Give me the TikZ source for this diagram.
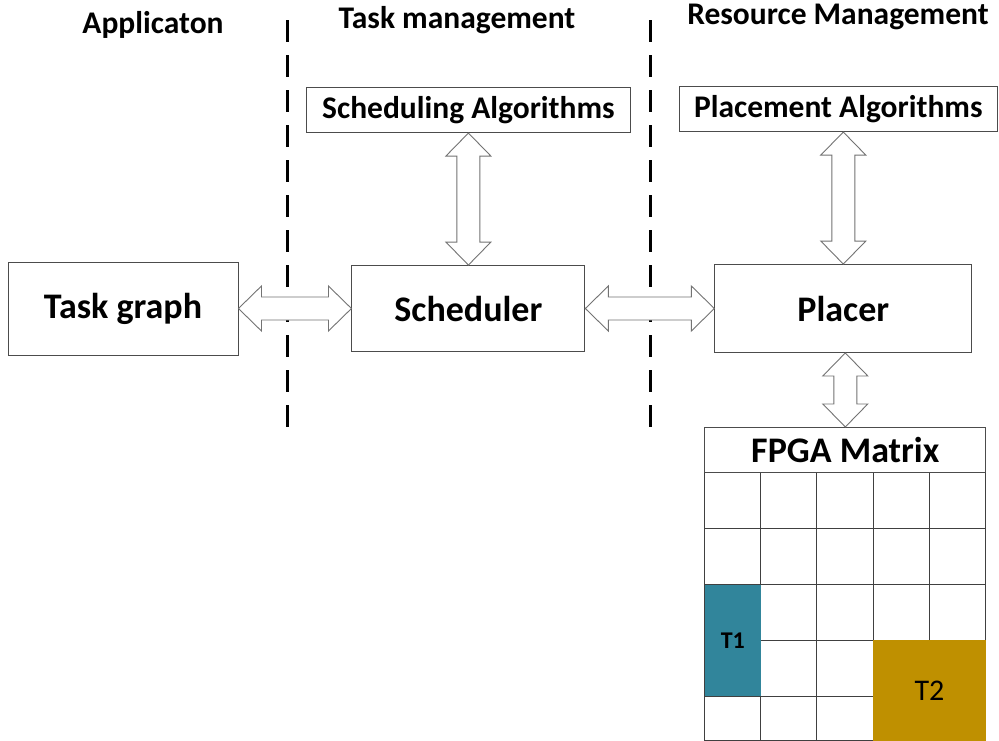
\documentclass[tikz,border=0pt]{standalone}
\usepackage{fontspec}
\setmainfont{Carlito}
\usetikzlibrary{positioning,calc}
\definecolor{tealT}{RGB}{49,133,155}
\definecolor{goldT}{RGB}{191,144,0}

% hollow two-way block arrows between boxes
\newcommand{\hlink}[2]{%
  \draw[blockarrow] let \p1=(#1.east), \p2=(#2.west), \p3=(#1.center) in
    (\x1,\y3) -- (\x1+23pt,\y3+22.5pt) -- (\x1+23pt,\y3+11.5pt) -- (\x2-23pt,\y3+11.5pt)
    -- (\x2-23pt,\y3+22.5pt) -- (\x2,\y3) -- (\x2-23pt,\y3-22.5pt) -- (\x2-23pt,\y3-11.5pt)
    -- (\x1+23pt,\y3-11.5pt) -- (\x1+23pt,\y3-22.5pt) -- cycle;}
\newcommand{\vlink}[2]{%
  \draw[blockarrow] let \p1=(#1.south), \p2=(#2.north) in
    (\x2,\y1) -- (\x2-22.5pt,\y1-23pt) -- (\x2-11.5pt,\y1-23pt) -- (\x2-11.5pt,\y2+23pt)
    -- (\x2-22.5pt,\y2+23pt) -- (\x2,\y2) -- (\x2+22.5pt,\y2+23pt) -- (\x2+11.5pt,\y2+23pt)
    -- (\x2+11.5pt,\y1-23pt) -- (\x2+22.5pt,\y1-23pt) -- cycle;}

\begin{document}
\begin{tikzpicture}[
    x=1pt, y=-1pt,
    box/.style={draw=black!70, line width=0.9pt, inner sep=0pt, align=center},
    big/.style={font=\fontsize{36}{39}\selectfont\bfseries},
    mid/.style={font=\fontsize{31.5}{34}\selectfont\bfseries},
    head/.style={font=\fontsize{31.5}{34}\selectfont\bfseries, inner sep=0pt},
    blockarrow/.style={draw=black!55, fill=white, line width=0.9pt, line join=miter},
    sep/.style={line width=3pt, dash pattern=on 22pt off 13pt},
    cell/.style={draw=black!75, line width=0.8pt}
]
\useasboundingbox[fill=white] (0,0) rectangle (999,740);

% Column titles
\node[head] (app) at (153,25) {Applicaton};
\node[head] (taskmgmt) at (457,20) {Task management};
\node[head] (resmgmt) at (838,17) {Resource Management};

% Separators
\draw[sep] (287,20) -- (287,435);
\draw[sep] (650,20) -- (650,435);

% Main boxes
\node[box, big, minimum width=230pt, minimum height=93pt] (taskgraph) at (123,308.5) {Task graph};
\node[box, big, minimum width=233pt, minimum height=86pt, right=113pt of taskgraph] (scheduler) {Scheduler};
\node[box, big, minimum width=257pt, minimum height=88pt, right=129pt of scheduler] (placer) {Placer};
\node[box, mid, minimum width=324pt, minimum height=45pt, above=132pt of scheduler] (schedalg) {Scheduling Algorithms};
\node[box, mid, minimum width=318pt, minimum height=45pt, above=132pt of placer, xshift=-5pt] (placealg) {Placement Algorithms};
\node[box, big, minimum width=281pt, minimum height=45pt, below=74pt of placer, xshift=2pt] (fpga) {FPGA Matrix};

% FPGA grid
\foreach \i in {0,...,5}
    \draw[cell] ($(fpga.south west)+(\i*56.2,0)$) -- ++(0,268);
\foreach \j in {1,...,4}
    \draw[cell] ($(fpga.south west)+(0,\j*55.8)$) -- ++(281,0);
\draw[cell] ($(fpga.south west)+(0,267.5)$) -- ++(281,0);

% Placed tasks
\node[fill=tealT, inner sep=0pt, minimum width=56.6pt, minimum height=111.6pt, anchor=north west,
      font=\fontsize{24}{26}\selectfont\bfseries] (t1) at ($(fpga.south west)+(0,111.6)$) {T1};
\node[fill=goldT, inner sep=0pt, minimum width=112.6pt, minimum height=101pt, anchor=north west,
      font=\fontsize{30}{32}\selectfont] (t2) at ($(fpga.south west)+(168.6,167.4)$) {T2};

% Links
\hlink{taskgraph}{scheduler}
\hlink{scheduler}{placer}
\vlink{schedalg}{scheduler}
\vlink{placealg}{placer}
\vlink{placer}{fpga}

\end{tikzpicture}
\end{document}
